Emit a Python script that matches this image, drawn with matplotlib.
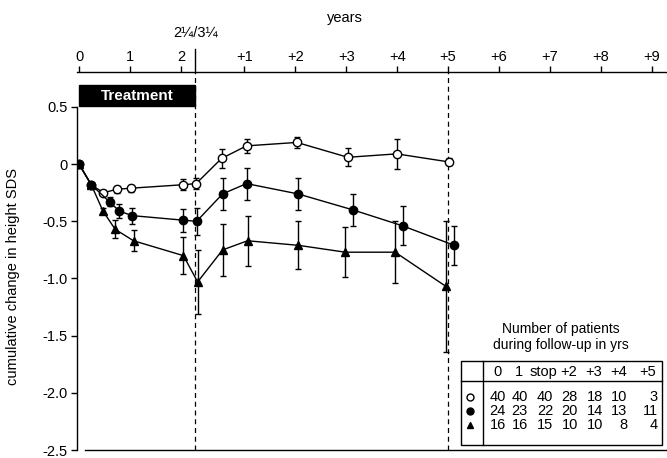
import matplotlib
matplotlib.use('Agg')
import matplotlib.pyplot as plt
from matplotlib.patches import Rectangle
from matplotlib.lines import Line2D

plt.rcParams['font.family'] = ['Liberation Sans', 'DejaVu Sans']

# time axis: treatment years 0..2.25, then follow-up years +1..+9 after stop
stop_x = 2.28
top_tick_pos = [0, 1, 2] + [2.25 + n for n in range(1, 10)]
top_tick_labels = ['0', '1', '2'] + ['+%d' % n for n in range(1, 10)]

# open circles
open_x = [0, 0.24, 0.48, 0.74, 1.03, 2.04, 2.30, 2.80, 3.29, 4.28, 5.28, 6.24, 7.26]
open_y = [0, -0.18, -0.25, -0.22, -0.21, -0.18, -0.17, 0.05, 0.16, 0.19, 0.06, 0.09, 0.02]
open_err = [0, 0, 0.02, 0.03, 0.03, 0.05, 0.05, 0.08, 0.06, 0.05, 0.08, 0.13, 0.03]

# filled circles
fill_x = [0, 0.24, 0.60, 0.79, 1.04, 2.05, 2.31, 2.82, 3.29, 4.30, 5.38, 6.36, 7.37]
fill_y = [0, -0.18, -0.33, -0.41, -0.45, -0.49, -0.50, -0.26, -0.17, -0.26, -0.40, -0.54, -0.71]
fill_err = [0, 0, 0.04, 0.06, 0.07, 0.10, 0.12, 0.14, 0.14, 0.14, 0.14, 0.17, 0.17]

# triangles
tri_x = [0, 0.24, 0.47, 0.71, 1.07, 2.05, 2.33, 2.82, 3.31, 4.31, 5.23, 6.21, 7.21]
tri_y = [0, -0.18, -0.41, -0.57, -0.67, -0.80, -1.03, -0.75, -0.67, -0.71, -0.77, -0.77, -1.07]
tri_err = [0, 0, 0.03, 0.08, 0.09, 0.16, 0.28, 0.23, 0.22, 0.21, 0.22, 0.27, 0.57]

# patient numbers table
table_cols = ['0', '1', 'stop', '+2', '+3', '+4', '+5']
n_open = [40, 40, 40, 28, 18, 10, 3]
n_fill = [24, 23, 22, 20, 14, 13, 11]
n_tri = [16, 16, 15, 10, 10, 8, 4]

W, H = 667, 458
fig = plt.figure(figsize=(W / 100, H / 100), dpi=100)
ax = fig.add_axes([77 / W, 1 - 450 / H, (W - 77) / W, (450 - 72) / H])
ax.set_xlim(-0.04, 11.55)
ax.set_ylim(-2.5, 0.806)

# series
ax.errorbar(tri_x, tri_y, yerr=tri_err, color='black', lw=1, elinewidth=1,
            capsize=2, marker='^', ms=6, mfc='black', mec='black', zorder=3)
ax.errorbar(open_x, open_y, yerr=open_err, color='black', lw=1, elinewidth=1,
            capsize=2, marker='o', ms=6, mfc='white', mec='black', mew=1, zorder=4)
ax.errorbar(fill_x, fill_y, yerr=fill_err, color='black', lw=1, elinewidth=1,
            capsize=2, marker='o', ms=6, mfc='black', mec='black', zorder=5)

# vertical dashed lines at stop and +5
ax.axvline(stop_x, color='black', lw=0.9, ls=(0, (4, 3)), zorder=2)
ax.axvline(7.25, color='black', lw=0.9, ls=(0, (4, 3)), zorder=2)

# treatment bar
ax.add_patch(Rectangle((0, 0.51), stop_x, 0.18, color='black', zorder=3))
ax.text(stop_x / 2, 0.60, 'Treatment', color='white', fontsize=11,
        fontweight='bold', ha='center', va='center', zorder=4)

# axes styling
ax.xaxis.tick_top()
ax.set_xticks(top_tick_pos)
ax.set_xticklabels(top_tick_labels, fontsize=10.5)
ax.tick_params(axis='x', direction='out', length=4, width=1, pad=2)
ax.set_yticks([0.5, 0, -0.5, -1.0, -1.5, -2.0, -2.5])
ax.set_yticklabels(['0.5', '0', '-0.5', '-1.0', '-1.5', '-2.0', '-2.5'], fontsize=10.5)
ax.tick_params(axis='y', direction='out', length=4, width=1, pad=3)
ax.spines['right'].set_visible(False)
ax.spines['left'].set_bounds(-2.5, 0.5)
ax.spines['bottom'].set_bounds(0.12, 11.55)
for s in ['top', 'left', 'bottom']:
    ax.spines[s].set_linewidth(1)
ax.set_ylabel('cumulative change in height SDS', fontsize=10.5)
ax.yaxis.set_label_coords(-57 / (W - 77), 0.46)

# stop marker above the top axis
ax.plot([stop_x, stop_x], [0.806, 0.806 + 0.2], color='black', lw=1, clip_on=False)
ax.text(stop_x, 0.806 + 0.28, '2\u00bc/3\u00bc', fontsize=10.5, ha='center', va='bottom')
fig.text(345 / W, 1 - 18 / H, 'years', fontsize=10.5, ha='center', va='center')


# patient table, drawn in figure pixels
def fx(x):
    return x / W


def fy(y):
    return 1 - y / H


fig.text(fx(561), fy(329), 'Number of patients', fontsize=10, ha='center', va='center')
fig.text(fx(561), fy(345), 'during follow-up in yrs', fontsize=10, ha='center', va='center')

left, right, top, bottom = 461, 662, 361, 445
fig.add_artist(Rectangle((fx(left), fy(bottom)), fx(right - left), (bottom - top) / H,
                         transform=fig.transFigure, fill=False, ec='black', lw=1))
fig.add_artist(Line2D([fx(left), fx(right)], [fy(381), fy(381)],
                      transform=fig.transFigure, color='black', lw=1))
fig.add_artist(Line2D([fx(483), fx(483)], [fy(top), fy(bottom)],
                      transform=fig.transFigure, color='black', lw=1))

head_x = [498, 519, 543, 569, 594, 619, 648]
for cx, lab in zip(head_x, table_cols):
    fig.text(fx(cx), fy(372), lab, fontsize=10.5, ha='center', va='center')

col_right = [506, 528, 553, 578, 603, 627, 658]
row_y = [397, 411, 425]
for ry, vals, mk, mfc in zip(row_y, [n_open, n_fill, n_tri], ['o', 'o', '^'],
                             ['white', 'black', 'black']):
    fig.add_artist(Line2D([fx(470)], [fy(ry)], transform=fig.transFigure,
                          marker=mk, ms=5, mfc=mfc, mec='black', mew=1, ls='none'))
    for cx, v in zip(col_right, vals):
        fig.text(fx(cx), fy(ry), str(v), fontsize=10.5, ha='right', va='center')

fig.savefig('out.png', dpi=100)
